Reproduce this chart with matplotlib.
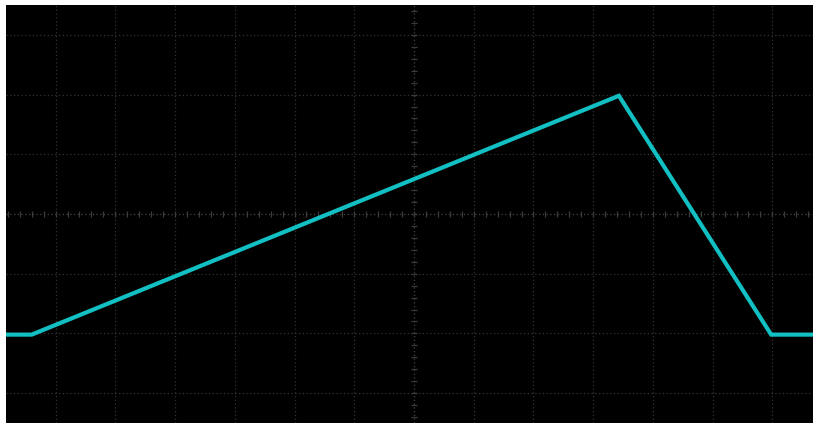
import numpy as np
import matplotlib
matplotlib.use('Agg')
import matplotlib.pyplot as plt

# trace vertices in divisions (time, volts)
t_pts = [-6.83, -6.40, 3.43, 5.98, 6.68]
v_pts = [-2.02, -2.02, 1.98, -2.02, -2.02]

x_lim = (-6.83, 6.68)
y_lim = (-3.5, 3.5)

fig = plt.figure(figsize=(8.13, 4.23), dpi=100, facecolor='white')
ax = fig.add_axes([6 / 813, 0, 807 / 813, 418 / 423])
ax.set_facecolor('black')
ax.set_xlim(*x_lim)
ax.set_ylim(*y_lim)

grid_col = '#333333'
centre_col = '#444444'
for gx in range(-6, 7):
    ax.axvline(gx, color=centre_col if gx == 0 else grid_col, lw=0.9, ls=(0, (1, 2)), zorder=1)
for gy in range(-3, 4):
    ax.axhline(gy, color=centre_col if gy == 0 else grid_col, lw=0.9, ls=(0, (1, 2)), zorder=1)

# minor ticks on the centre cross
mx = np.arange(-6.8, 6.81, 0.2)
my = np.arange(-3.4, 3.41, 0.2)
ax.plot(mx, np.zeros_like(mx), ls='none', marker='|', ms=5, mew=0.9, color='#3c3c3c', zorder=1)
ax.plot(np.zeros_like(my), my, ls='none', marker='_', ms=5, mew=0.9, color='#3c3c3c', zorder=1)

ax.plot(t_pts, v_pts, color='#12bfc2', lw=3.0, solid_joinstyle='miter', zorder=3)

for s in ax.spines.values():
    s.set_visible(False)
ax.set_xticks([])
ax.set_yticks([])

fig.savefig('out.png', dpi=100, facecolor='white')
